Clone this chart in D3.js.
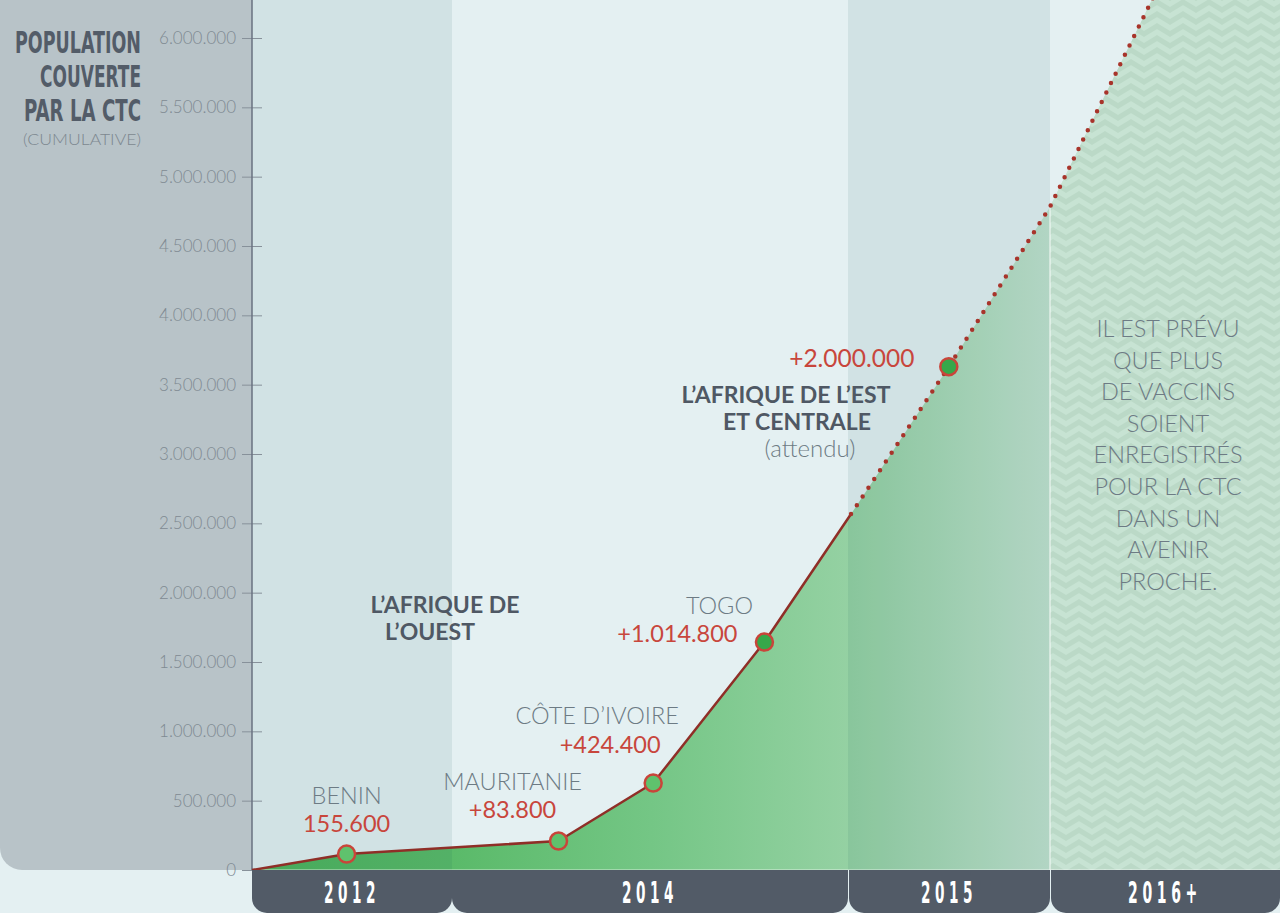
<!DOCTYPE html>
<html lang="fr">
<head>
<meta charset="utf-8">
<title>Population couverte par la CTC</title>
<script src="https://d3js.org/d3.v7.min.js"></script>
<style>
  body { margin: 0; background: #e4f0f2; overflow: hidden; }
  .lato { font-family: Lato, "Open Sans", sans-serif; }
  .narrow { font-family: "Liberation Sans Narrow", "DejaVu Sans Condensed", sans-serif; font-weight: bold; }
</style>
</head>
<body>
<div id="chart"></div>
<script>
// periods along the bottom, and the y ticks
const periods = ["2012", "2014", "2015", "2016+"];
const yTicks = d3.range(0, 6000001, 500000);

// countries (points), t = position along the timeline in "period" units
const pointNames = ["BENIN", "MAURITANIE", "CÔTE D’IVOIRE", "TOGO", ""];
const pointLabels = ["155.600", "+83.800", "+424.400", "+1.014.800", "+2.000.000"];
const pointT = [0.473, 1.269, 1.508, 1.789, 2.499];
const pointValues = [115000, 209000, 627000, 1644000, 3630000];
const pointDark = [false, false, false, true, true];

// the curve: solid part (done) and dotted part (expected)
const solidT = [0, 0.473, 1.269, 1.508, 1.789, 2.015];
const solidV = [0, 115000, 209000, 627000, 1644000, 2567000];
const dottedT = [2.015, 2.499, 3.0, 3.443, 3.57];
const dottedV = [2567000, 3630000, 4782000, 6274000, 6700000];

const rightNote = ["IL EST PRÉVU", "QUE PLUS", "DE VACCINS", "SOIENT", "ENREGISTRÉS",
                   "POUR LA CTC", "DANS UN", "AVENIR", "PROCHE."];

// label placement (offsets from the point)
const nameOff = [[0, -50], [-46, -51], [-56, -59], [-45, -28], [0, 0]];
const valOff = [[0, -22], [-46, -23], [-43, -30], [-87, 0], [-97, 0]];

var width = 1280, height = 913;
var baseY = 870;

var svg = d3.select("#chart").append("svg")
    .attr("width", width)
    .attr("height", height);

var x = d3.scaleLinear()
    .domain([0, 1, 2, 3, 4])
    .range([252, 452, 848, 1050, 1280]);

var y = d3.scaleLinear()
    .domain([0, 6000000])
    .range([baseY, 38]);

var fmt = d3.formatLocale({decimal: ",", thousands: ".", grouping: [3], currency: ["", ""]}).format(",d");

// defs
var defs = svg.append("defs");
var grad = defs.append("linearGradient")
    .attr("id", "areaGrad")
    .attr("gradientUnits", "userSpaceOnUse")
    .attr("x1", x(0)).attr("x2", x(3)).attr("y1", 0).attr("y2", 0);
[[0, "#4cb35a"], [0.25, "#5aba69"], [0.5, "#74c685"], [0.75, "#95d1a3"], [1, "#c2e2cf"]]
  .forEach(function(s) { grad.append("stop").attr("offset", s[0]).attr("stop-color", s[1]); });

var pat = defs.append("pattern")
    .attr("id", "chev")
    .attr("patternUnits", "userSpaceOnUse")
    .attr("width", 26).attr("height", 12);
pat.append("rect").attr("width", 26).attr("height", 12).attr("fill", "#c7e3d3");
[-12, 0, 12].forEach(function(o) {
  pat.append("path")
    .attr("d", "M-13," + (o + 2) + " L0," + (o + 10) + " L13," + (o + 2) + " L26," + (o + 10) + " L39," + (o + 2))
    .attr("fill", "none")
    .attr("stroke", "#bbd9c7")
    .attr("stroke-width", 5);
});

defs.append("clipPath").attr("id", "futureClip")
  .append("rect")
    .attr("x", x(3)).attr("y", 0)
    .attr("width", width - x(3)).attr("height", baseY);

// left grey panel
svg.append("path")
    .attr("d", "M0,0 H" + x(0) + " V" + baseY + " H22 A22,22 0 0 1 0," + (baseY - 22) + " Z")
    .attr("fill", "#b8c3c8");

// area under the curve
var allT = solidT.concat(dottedT.slice(1), [4]);
var allV = solidV.concat(dottedV.slice(1), [dottedV[dottedV.length - 1]]);
var areaData = allT.map(function(t, i) { return {t: t, v: allV[i]}; });

var area = d3.area()
    .x(function(d) { return x(d.t); })
    .y0(y(0))
    .y1(function(d) { return y(d.v); });

svg.append("path")
    .datum(areaData)
    .attr("d", area)
    .attr("fill", "url(#areaGrad)");

svg.append("path")
    .datum(areaData)
    .attr("d", area)
    .attr("fill", "url(#chev)")
    .attr("clip-path", "url(#futureClip)");

// darker bands for 2012 and 2015
[0, 2].forEach(function(i) {
  svg.append("rect")
    .attr("x", x(i)).attr("y", 0)
    .attr("width", x(i + 1) - x(i))
    .attr("height", baseY)
    .attr("fill", "rgb(20,90,90)")
    .attr("fill-opacity", 0.09);
});

// thin light separator at 2016+ inside the area
svg.append("line")
    .attr("x1", x(3)).attr("x2", x(3))
    .attr("y1", y(4782000)).attr("y2", baseY)
    .attr("stroke", "#ffffff").attr("stroke-opacity", 0.45).attr("stroke-width", 2);

svg.append("line")
    .attr("x1", x(0)).attr("x2", width)
    .attr("y1", baseY - 0.5).attr("y2", baseY - 0.5)
    .attr("stroke", "#ffffff").attr("stroke-opacity", 0.35);

// Y axis
var yAxis = svg.append("g")
    .attr("transform", "translate(" + x(0) + ",0)")
    .call(d3.axisLeft(y).tickValues(yTicks).tickFormat(fmt).tickSize(10).tickPadding(6));
yAxis.select(".domain").remove();
yAxis.selectAll(".tick line").attr("x1", 10).attr("stroke", "#87919a");
yAxis.selectAll(".tick text")
    .attr("class", "lato")
    .style("font-size", "17px")
    .style("font-weight", 300)
    .attr("fill", "#7f8a92");
svg.append("line")
    .attr("x1", x(0)).attr("x2", x(0))
    .attr("y1", 0).attr("y2", baseY)
    .attr("stroke", "#687280")
    .attr("stroke-width", 1.5);

// curve
var line = d3.line()
    .x(function(d) { return x(d.t); })
    .y(function(d) { return y(d.v); });

svg.append("path")
    .datum(solidT.map(function(t, i) { return {t: t, v: solidV[i]}; }))
    .attr("d", line)
    .attr("fill", "none")
    .attr("stroke", "#8f2e27")
    .attr("stroke-width", 2.5)
    .attr("stroke-linejoin", "round");

svg.append("path")
    .datum(dottedT.map(function(t, i) { return {t: t, v: dottedV[i]}; }))
    .attr("d", line)
    .attr("fill", "none")
    .attr("stroke", "#a8342b")
    .attr("stroke-width", 4.5)
    .attr("stroke-linecap", "round")
    .attr("stroke-dasharray", "0 10.5");

// points
svg.selectAll(".pt")
    .data(pointT)
  .enter().append("circle")
    .attr("class", "pt")
    .attr("cx", function(d) { return x(d); })
    .attr("cy", function(d, i) { return y(pointValues[i]); })
    .attr("r", 8.5)
    .attr("fill", function(d, i) { return pointDark[i] ? "#36a84a" : "#5fc26d"; })
    .attr("stroke", "#c9453a")
    .attr("stroke-width", 2.5);

// point labels
pointT.forEach(function(t, i) {
  var px = x(t), py = y(pointValues[i]);
  if (pointNames[i]) {
    svg.append("text")
      .attr("class", "lato")
      .attr("x", px + nameOff[i][0])
      .attr("y", py + nameOff[i][1])
      .attr("text-anchor", "middle")
      .style("font-size", "23.5px")
      .style("font-weight", 300)
      .attr("fill", "#6d7b84")
      .text(pointNames[i]);
  }
  svg.append("text")
    .attr("class", "lato")
    .attr("x", px + valOff[i][0])
    .attr("y", py + valOff[i][1])
    .attr("text-anchor", "middle")
    .style("font-size", i === 4 ? "24.5px" : "23.5px")
    .attr("fill", "#c8463c")
    .text(pointLabels[i]);
});

// region labels
function regionText(txt, cx, by, bold) {
  svg.append("text")
    .attr("class", "lato")
    .attr("x", cx).attr("y", by)
    .attr("text-anchor", "middle")
    .style("font-size", bold ? "23px" : "24px")
    .style("font-weight", bold ? 700 : 300)
    .attr("fill", bold ? "#4f5864" : "#6d7b84")
    .text(txt);
}
regionText("L’AFRIQUE DE", 445, 613, true);
regionText("L’OUEST", 430, 640, true);
regionText("L’AFRIQUE DE L’EST", 786, 403, true);
regionText("ET CENTRALE", 797, 430, true);
regionText("(attendu)", 810, 457, false);

// right note
svg.selectAll(".note")
    .data(rightNote)
  .enter().append("text")
    .attr("class", "note lato")
    .attr("x", 1168)
    .attr("y", function(d, i) { return 337 + i * 31.6; })
    .attr("text-anchor", "middle")
    .style("font-size", "23.5px")
    .style("font-weight", 300)
    .attr("fill", "#6d7b84")
    .text(function(d) { return d; });

// title, squeezed to the reference widths
[["POPULATION", 53, 126], ["COUVERTE", 87, 101], ["PAR LA CTC", 121, 117]].forEach(function(l) {
  var t = svg.append("text")
    .attr("class", "narrow")
    .attr("text-anchor", "end")
    .style("font-size", "31px")
    .attr("fill", "#535c68")
    .text(l[0]);
  var w = t.node().getComputedTextLength();
  t.attr("transform", "translate(141," + l[1] + ") scale(" + (l[2] / w) + ",1)");
});
var cum = svg.append("text")
    .attr("class", "lato")
    .attr("text-anchor", "end")
    .style("font-size", "16px")
    .style("font-weight", 300)
    .attr("fill", "#7d8890")
    .text("(CUMULATIVE)");
cum.attr("transform", "translate(141,145) scale(" + (118 / cum.node().getComputedTextLength()) + ",1)");

// bottom tabs
var r = 15, tb = height;
periods.forEach(function(p, i) {
  var x0 = x(i) + (i >= 2 ? 1 : 0), x1 = x(i + 1);
  svg.append("path")
    .attr("d", "M" + x0 + "," + baseY + " H" + x1 + " V" + (tb - r) +
      " A" + r + "," + r + " 0 0 1 " + (x1 - r) + "," + tb +
      " H" + (x0 + r) + " A" + r + "," + r + " 0 0 1 " + x0 + "," + (tb - r) + " Z")
    .attr("fill", "#525b67");
  var t = svg.append("text")
    .attr("class", "narrow")
    .attr("text-anchor", "middle")
    .style("font-size", "30px")
    .style("letter-spacing", "9px")
    .attr("fill", "#ffffff")
    .text(p);
  var w = t.node().getComputedTextLength();
  var target = p.length > 4 ? 74 : 56;
  t.attr("transform", "translate(" + ((x(i) + x(i + 1)) / 2) + ",903) scale(" + (target / w) + ",1)");
});
</script>
</body>
</html>
